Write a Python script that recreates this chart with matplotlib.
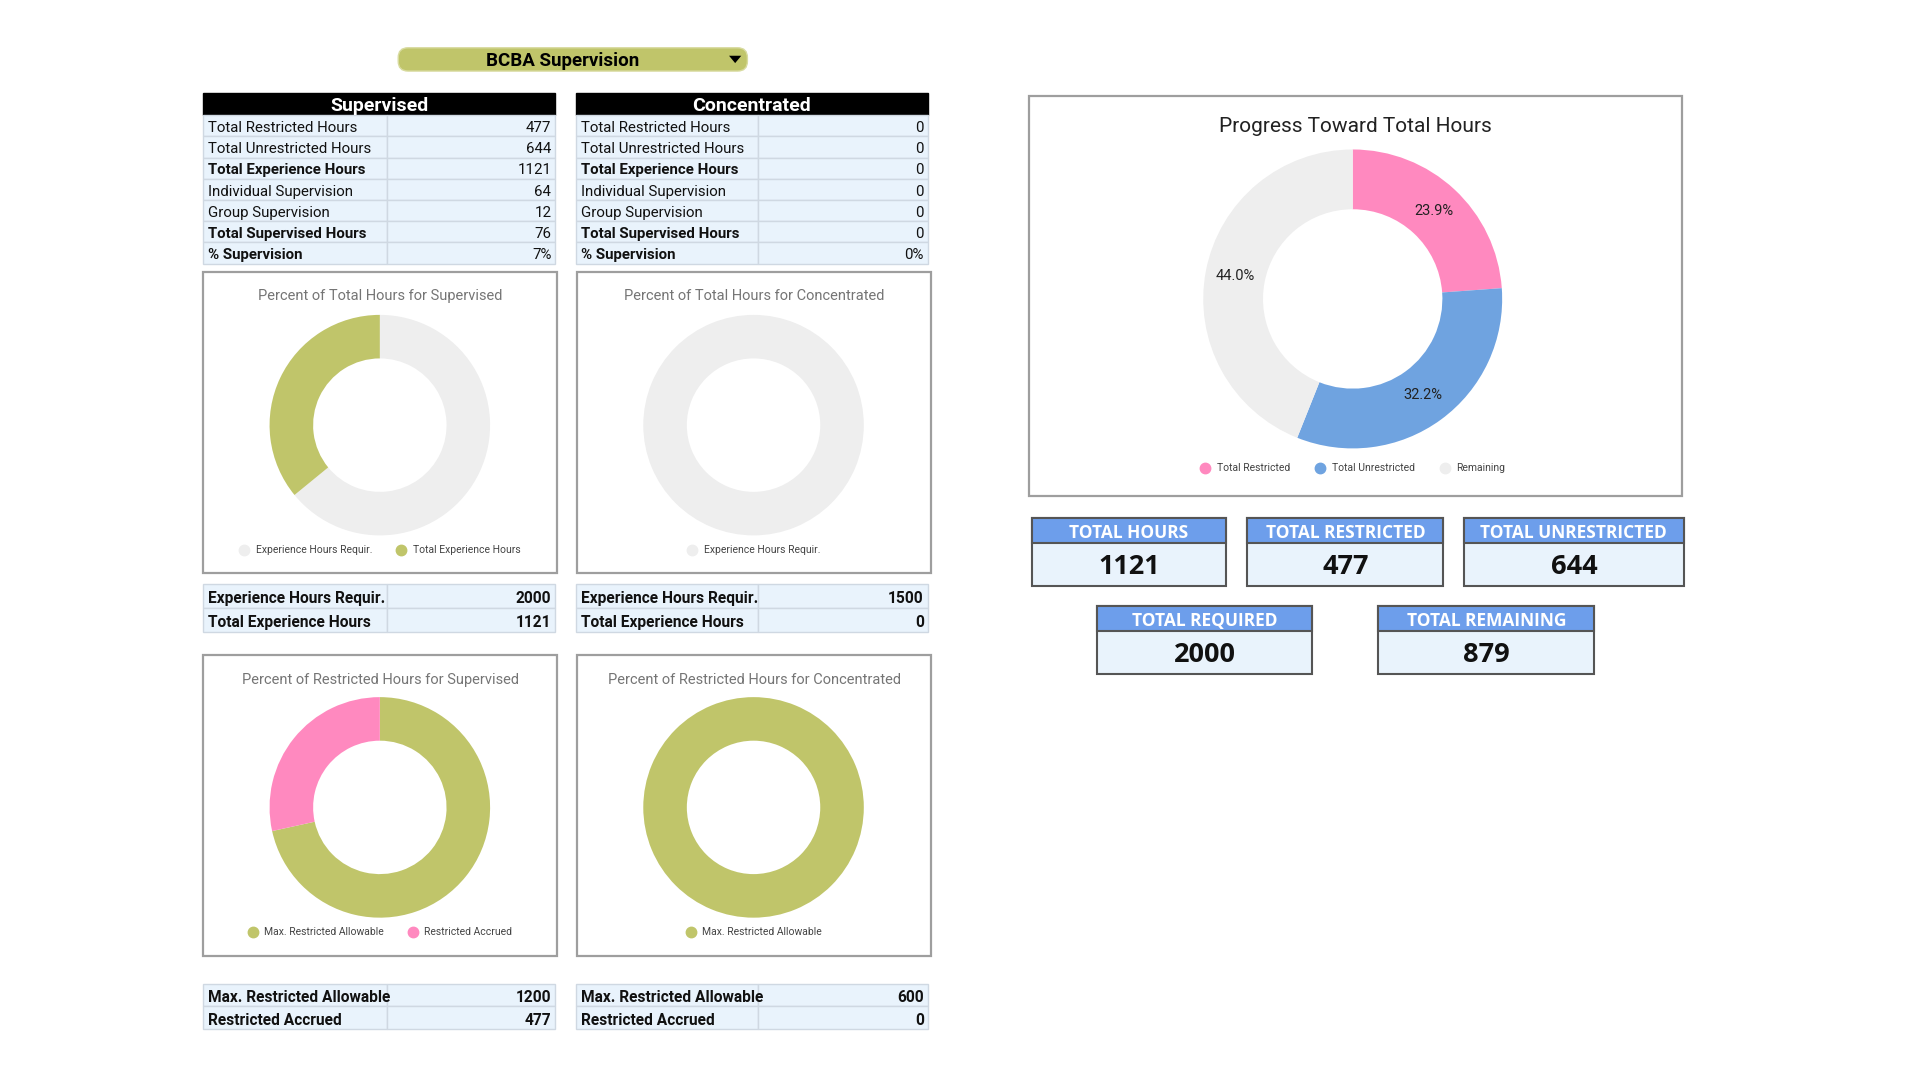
import matplotlib.pyplot as plt
from matplotlib.patches import Rectangle, FancyBboxPatch, Polygon
from matplotlib.lines import Line2D

plt.rcParams['font.family'] = ['Roboto', 'DejaVu Sans']

# ---- data ----
row_labels = ["Total Restricted Hours", "Total Unrestricted Hours", "Total Experience Hours",
              "Individual Supervision", "Group Supervision", "Total Supervised Hours", "% Supervision"]
row_bold = [False, False, True, False, False, True, True]
supervised_values = ["477", "644", "1121", "64", "12", "76", "7%"]
concentrated_values = ["0", "0", "0", "0", "0", "0", "0%"]

total_labels = ["Experience Hours Requir.", "Total Experience Hours"]
supervised_total = [2000, 1121]
concentrated_total = [1500, 0]

restricted_labels = ["Max. Restricted Allowable", "Restricted Accrued"]
supervised_restricted = [1200, 477]
concentrated_restricted = [600, 0]

progress_labels = ["Total Restricted", "Total Unrestricted", "Remaining"]
progress_values = [477, 644, 879]

kpi_labels = ["TOTAL HOURS", "TOTAL RESTRICTED", "TOTAL UNRESTRICTED", "TOTAL REQUIRED", "TOTAL REMAINING"]
kpi_values = ["1121", "477", "644", "2000", "879"]

# ---- colours ----
olive = '#c0c56a'
pink = '#ff89bf'
blue = '#6fa3e0'
grey = '#eeeeee'
cell = '#e9f3fc'
cell_line = '#cfd8e2'
frame = '#9e9e9e'
kpi_head = '#6d9eeb'

W, H = 1567, 881.5  # layout units of the reference
fig = plt.figure(figsize=(19.2, 10.8), dpi=100)
ax = fig.add_axes([0, 0, 1, 1])
ax.set_xlim(0, W)
ax.set_ylim(H, 0)
ax.axis('off')


def pie_axes(cx, cy, r):
    return fig.add_axes([(cx - r) / W, 1 - (cy + r) / H, 2 * r / W, 2 * r / H])


def donut(cx, cy, r, values, colors, labels, width=0.395, pct=False, legend_fs=7.5, colspace=2.3):
    p = pie_axes(cx, cy, r)
    kw = dict(startangle=90, counterclock=False, colors=colors,
              wedgeprops=dict(width=width, edgecolor='none'))
    if pct:
        p.pie(values, autopct='%1.1f%%', pctdistance=0.8,
              textprops=dict(fontsize=10.5, color='#222'), **kw)
    else:
        p.pie(values, **kw)
    p.set_xlim(-1, 1)
    p.set_ylim(-1, 1)
    handles, names = [], []
    for v, c, lab in zip(values, colors, labels):
        if v > 0:
            handles.append(Line2D([], [], marker='o', linestyle='none', markersize=7.5,
                                  markerfacecolor=c, markeredgecolor=c))
            names.append(lab)
    leg = p.legend(handles, names, loc='center', bbox_to_anchor=(0.5, -0.067), ncol=len(names),
                   frameon=False, fontsize=legend_fs, handletextpad=0.6, columnspacing=colspace,
                   handlelength=1.0, borderaxespad=0)
    for t in leg.get_texts():
        t.set_color('#444444')
    return p


def draw_rows(x0, xs, x1, y0, rh, labels, values, bolds, fs=10.8, bold_values=False):
    for i, (lab, val, b) in enumerate(zip(labels, values, bolds)):
        y = y0 + i * rh
        r1 = Rectangle((x0, y), xs - x0, rh, facecolor=cell, edgecolor=cell_line, lw=1)
        r2 = Rectangle((xs, y), x1 - xs, rh, facecolor=cell, edgecolor=cell_line, lw=1)
        ax.add_patch(r1)
        ax.add_patch(r2)
        t = ax.text(x0 + 4, y + rh / 2 + 1.8, lab, ha='left', va='center', fontsize=fs,
                    fontweight='bold' if b else 'normal', color='#111111')
        t.set_clip_path(r1)
        ax.text(x1 - 3, y + rh / 2 + 1.8, val, ha='right', va='center', fontsize=fs,
                fontweight='bold' if (b and bold_values) else 'normal', color='#111111')


def chart_frame(x0, y0, x1, y1, title, fs=10.5, color='#757575'):
    ax.add_patch(Rectangle((x0, y0), x1 - x0, y1 - y0, facecolor='white', edgecolor=frame, lw=1.6))
    ax.text((x0 + x1) / 2, y0 + 20, title, ha='center', va='center', fontsize=fs, color=color)


# ---- dropdown ----
ax.add_patch(FancyBboxPatch((325, 39), 285, 19, boxstyle='round,pad=0,rounding_size=8',
                            facecolor=olive, edgecolor='#d8dba0', lw=1))
ax.text(459, 50, "BCBA Supervision", ha='center', va='center', fontsize=13.5, fontweight='bold')
ax.add_patch(Polygon([(595, 45.5), (605, 45.5), (600, 51.5)], closed=True, facecolor='black'))

# ---- top tables ----
for x0, xs, x1, title, vals in [(166, 316, 453, "Supervised", supervised_values),
                                (470, 619, 757, "Concentrated", concentrated_values)]:
    ax.add_patch(Rectangle((x0, 76), x1 - x0, 18, facecolor='black', edgecolor='black'))
    ax.text((x0 + x1) / 2, 86.5, title, ha='center', va='center', fontsize=14,
            fontweight='bold', color='white')
    draw_rows(x0, xs, x1, 94, 17.3, row_labels, vals, row_bold)

# ---- small donut charts ----
chart_frame(166, 222, 455, 468, "Percent of Total Hours for Supervised")
chart_frame(471, 222, 760, 468, "Percent of Total Hours for Concentrated")
chart_frame(166, 535, 455, 780, "Percent of Restricted Hours for Supervised")
chart_frame(471, 535, 760, 780, "Percent of Restricted Hours for Concentrated")

donut(310, 347, 90, supervised_total, [grey, olive], total_labels)
donut(615, 347, 90, concentrated_total, [grey, olive], total_labels)
donut(310, 659, 90, supervised_restricted, [olive, pink], restricted_labels)
donut(615, 659, 90, concentrated_restricted, [olive, pink], restricted_labels)

# ---- small tables ----
draw_rows(166, 316, 453, 477, 19.5, total_labels, [str(v) for v in supervised_total], [True, True],
          fs=11.2, bold_values=True)
draw_rows(470, 619, 757, 477, 19.5, total_labels, [str(v) for v in concentrated_total], [True, True],
          fs=11.2, bold_values=True)
draw_rows(166, 316, 453, 803, 18.5, restricted_labels, [str(v) for v in supervised_restricted],
          [True, True], fs=11.2, bold_values=True)
draw_rows(470, 619, 757, 803, 18.5, restricted_labels, [str(v) for v in concentrated_restricted],
          [True, True], fs=11.2, bold_values=True)

# ---- progress chart ----
chart_frame(840, 78, 1373, 405, "")
ax.text(1106, 103, "Progress Toward Total Hours", ha='center', va='center', fontsize=15, color='#222222')
donut(1104, 244, 122, progress_values, [pink, blue, grey], progress_labels, width=0.4, pct=True,
      colspace=2.4)

# ---- KPI boxes ----
kpi_boxes = [(842, 1001, 423), (1018, 1178, 423), (1195, 1374, 423), (895, 1071, 495), (1125, 1301, 495)]
for (x0, x1, y0), lab, val in zip(kpi_boxes, kpi_labels, kpi_values):
    ax.add_patch(Rectangle((x0, y0), x1 - x0, 55, facecolor=cell, edgecolor='#555555', lw=1.5))
    ax.add_patch(Rectangle((x0, y0), x1 - x0, 20, facecolor=kpi_head, edgecolor='#555555', lw=1.5))
    ax.text((x0 + x1) / 2, y0 + 12, lab, ha='center', va='center', fontsize=12.5, fontweight='bold',
            color='white', family=['Open Sans', 'DejaVu Sans'])
    ax.text((x0 + x1) / 2, y0 + 40, val, ha='center', va='center', fontsize=19.5, fontweight='bold',
            color='#111111', family=['Open Sans', 'DejaVu Sans'])

fig.savefig('out.png', dpi=100, facecolor='white')
